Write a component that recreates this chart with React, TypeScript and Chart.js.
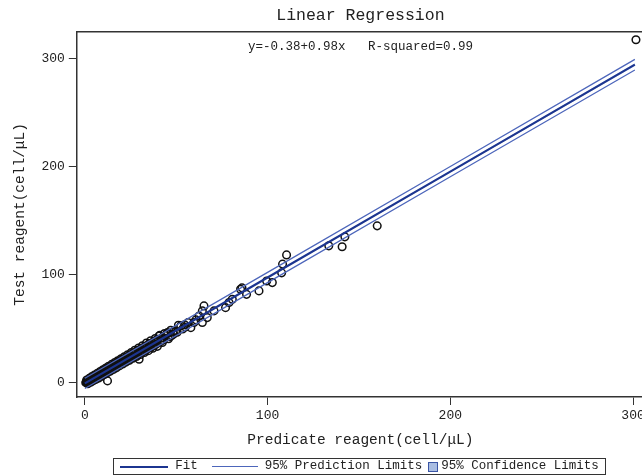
import React, { useEffect, useRef } from "react";
import { Chart, registerables } from "chart.js";

Chart.register(...registerables);

const FONT = "'Liberation Mono', 'Noto Sans CJK SC', monospace";

const titleText = "Linear Regression";
const equationText = "y=-0.38+0.98x   R-squared=0.99";
const xTitle = "Predicate reagent(cell/μL)";
const yTitle = "Test reagent(cell/μL)";

const xTicks = [0, 100, 200, 300];
const yTicks = [0, 100, 200, 300];

// observed pairs [predicate, test]
const observations: [number, number][] = [
  [0.5, 0.3], [0.8, 1.0], [1.0, 0.6], [1.2, 1.5], [1.5, 0.9], [1.8, 2.1], [2.0, 1.4], [2.2, 2.6],
  [2.5, 1.8], [2.8, 3.0], [3.0, 2.2], [3.3, 3.5], [3.5, 2.7], [3.8, 4.1], [4.0, 3.2], [4.3, 3.9],
  [4.6, 5.0], [5.0, 4.3], [5.2, 5.6], [5.5, 4.8], [5.8, 6.2], [6.0, 5.1], [6.3, 6.8], [6.6, 5.7],
  [7.0, 7.3], [7.2, 6.1], [7.5, 8.0], [7.8, 6.9], [8.0, 8.5], [8.3, 7.2], [8.6, 9.1], [9.0, 8.0],
  [9.3, 9.8], [9.6, 8.4], [10.0, 10.5], [10.3, 9.0], [10.6, 11.2], [11.0, 9.8], [11.3, 12.0],
  [11.6, 10.4], [12.0, 12.6], [12.4, 1.9], [12.5, 11.3], [12.8, 13.5], [13.2, 12.0], [13.5, 14.2],
  [13.9, 12.6], [14.2, 15.0], [14.6, 13.4], [15.0, 15.8], [15.4, 14.0], [15.8, 16.7], [16.2, 14.8],
  [16.6, 17.3], [17.0, 15.6], [17.4, 18.2], [17.8, 16.3], [18.2, 19.0], [18.6, 17.2], [19.0, 19.9],
  [19.5, 18.0], [20.0, 21.0], [20.4, 18.8], [20.9, 21.8], [21.3, 19.5], [21.8, 22.6], [22.3, 20.6],
  [22.8, 23.5], [23.3, 21.4], [23.8, 24.6], [24.3, 22.3], [24.8, 25.5], [25.3, 23.4], [25.8, 26.8],
  [26.4, 24.3], [27.0, 27.9], [27.5, 25.0], [28.1, 29.0], [28.7, 26.4], [29.3, 30.2], [29.7, 22.0],
  [30.0, 27.6], [30.6, 31.4], [31.2, 28.8], [31.8, 32.5], [32.4, 29.6], [33.0, 33.8], [33.7, 30.9],
  [34.3, 35.0], [35.0, 32.2], [35.6, 36.4], [36.3, 33.0], [37.0, 37.5], [37.7, 34.6], [38.4, 39.0],
  [39.0, 35.8], [39.8, 40.2], [40.6, 43.5], [41.2, 38.0], [42.0, 41.6], [43.0, 39.8], [44.0, 43.9],
  [45.0, 45.6], [45.2, 46.6], [46.5, 42.9], [47.5, 44.0], [49.7, 48.0], [50.5, 47.0], [52.5, 52.8],
  [53.5, 50.0], [58.0, 51.2], [59.7, 55.9], [62.5, 62.0], [64.3, 66.7], [65.2, 71.3], [64.3, 55.9],
  [67.0, 60.5], [70.7, 66.7], [77.0, 69.7], [78.9, 74.4], [80.7, 77.5], [85.2, 86.7], [86.0, 88.0],
  [88.5, 82.0], [95.3, 85.2], [99.5, 94.4], [102.6, 92.9], [107.7, 101.9], [108.2, 110.0],
  [110.4, 118.5], [133.5, 126.9], [140.8, 126.0], [142.3, 135.2], [160.0, 145.4], [301.6, 317.6],
  [1.0, 2.8], [1.6, -0.8], [2.4, 4.2], [3.1, 0.6], [3.9, 6.0], [4.5, 1.9], [5.3, 7.4], [6.1, 3.3],
  [6.9, 9.0], [7.6, 4.6], [8.4, 10.6], [9.1, 6.1], [9.9, 12.2], [10.7, 7.8], [11.5, 13.8], [12.2, 9.3],
  [13.0, 15.4], [13.8, 10.9], [14.7, 17.2], [15.5, 12.4], [16.4, 18.9], [17.2, 14.0], [18.0, 20.6],
  [18.9, 15.8], [19.8, 22.4], [20.7, 17.5], [21.6, 24.2], [22.5, 19.3], [23.4, 26.1], [24.4, 20.9],
  [25.4, 28.2], [26.3, 22.8], [27.3, 30.3], [28.3, 24.5], [29.4, 32.4], [30.4, 26.3], [31.5, 34.4],
  [32.6, 28.2], [33.7, 36.9], [34.8, 29.9], [36.0, 39.0], [37.2, 32.1], [38.5, 41.2], [39.7, 33.9],
  [41.0, 44.0], [42.4, 37.5], [43.6, 45.8], [45.8, 40.9], [47.0, 48.7], [48.6, 45.3], [51.2, 53.4],
  [55.0, 51.8], [56.5, 56.0], [60.8, 58.4],
  [2.6, 2.3], [4.8, 4.6], [6.8, 6.5], [9.5, 9.2], [11.8, 11.5], [14.0, 13.9], [16.0, 15.9], [18.4, 18.2],
  [20.6, 20.3], [23.0, 22.8], [25.5, 25.1], [28.0, 27.5], [30.8, 30.1], [33.3, 32.9], [36.0, 35.4],
  [38.8, 38.1], [42.8, 42.0], [48.3, 47.3], [54.6, 53.9],
];

const lineX = [0, 100, 200, 301];
const fitY = [-0.4, 97.6, 195.6, 294.6];
const predUpper = [4.3, 102.3, 200.3, 299.5];
const predLower = [-5.1, 92.9, 190.9, 289.7];
const confUpper = [0.4, 98.1, 196.2, 295.8];
const confLower = [-1.2, 97.1, 195.0, 293.4];

const FIT_COLOR = "#1c3590";
const PRED_COLOR = "#4d66bb";
const CONF_FILL = "rgba(170,190,225,0.8)";

const toXY = (ys: number[]) => ys.map((y, i) => ({ x: lineX[i], y }));

const framePlugin = {
  id: "frameAndEquation",
  afterDraw(chart: any) {
    const { ctx, chartArea } = chart;
    ctx.save();
    ctx.strokeStyle = "#333";
    ctx.lineWidth = 1.5;
    ctx.beginPath();
    ctx.moveTo(chartArea.left, chartArea.top);
    ctx.lineTo(chartArea.right, chartArea.top);
    ctx.lineTo(chartArea.right, chartArea.bottom);
    ctx.stroke();
    ctx.fillStyle = "#222";
    ctx.font = `12.5px ${FONT}`;
    ctx.textAlign = "center";
    ctx.textBaseline = "middle";
    ctx.fillText(equationText, (chartArea.left + chartArea.right) / 2, chartArea.top + 15);
    ctx.restore();
  },
};

export default function App() {
  const ref = useRef<HTMLCanvasElement | null>(null);
  useEffect(() => {
    if (!ref.current) return;
    const axisCommon = {
      grid: { display: true, drawOnChartArea: false, drawTicks: true, tickLength: 8, color: "#333", lineWidth: 1 },
      border: { display: true, color: "#333", width: 1.5 },
    };
    const chart = new Chart(ref.current, {
      type: "scatter",
      data: {
        datasets: [
          {
            label: "conf upper",
            type: "line",
            data: toXY(confUpper),
            borderWidth: 0,
            borderColor: "rgba(0,0,0,0)",
            pointRadius: 0,
            fill: "+1",
            backgroundColor: CONF_FILL,
            order: 3,
          } as any,
          {
            label: "conf lower",
            type: "line",
            data: toXY(confLower),
            borderWidth: 0,
            borderColor: "rgba(0,0,0,0)",
            pointRadius: 0,
            fill: false,
            order: 3,
          } as any,
          {
            label: "Observed",
            data: observations.map(([x, y]) => ({ x, y })),
            pointRadius: 3.8,
            borderWidth: 1.5,
            borderColor: "#111",
            backgroundColor: "rgba(255,255,255,0)",
            order: 2,
          },
          {
            label: "Upper Prediction",
            type: "line",
            data: toXY(predUpper),
            borderWidth: 1.3,
            borderColor: PRED_COLOR,
            pointRadius: 0,
            fill: false,
            order: 1,
          } as any,
          {
            label: "Lower Prediction",
            type: "line",
            data: toXY(predLower),
            borderWidth: 1.3,
            borderColor: PRED_COLOR,
            pointRadius: 0,
            fill: false,
            order: 1,
          } as any,
          {
            label: "Fit",
            type: "line",
            data: toXY(fitY),
            borderWidth: 2.2,
            borderColor: FIT_COLOR,
            pointRadius: 0,
            fill: false,
            order: 0,
          } as any,
        ],
      },
      options: {
        animation: false,
        responsive: false,
        devicePixelRatio: 1,
        layout: { autoPadding: false, padding: { left: 7, right: 16, top: 0, bottom: 22 } },
        plugins: {
          legend: { display: false },
          tooltip: { enabled: false },
          title: {
            display: true,
            text: titleText,
            fullSize: false,
            color: "#222",
            font: { family: FONT, size: 16.5, weight: "normal" },
            padding: { top: 6, bottom: 6 },
          },
        },
        scales: {
          x: {
            type: "linear",
            min: -4.4,
            max: 306,
            ...axisCommon,
            afterBuildTicks: (s: any) => { s.ticks = xTicks.map((v) => ({ value: v })); },
            ticks: { color: "#222", font: { family: FONT, size: 13 }, padding: 3, maxRotation: 0 },
            title: {
              display: true,
              text: xTitle,
              color: "#222",
              font: { family: FONT, size: 14.5 },
              padding: { top: 5, bottom: 4 },
            },
          },
          y: {
            type: "linear",
            min: -13,
            max: 325,
            ...axisCommon,
            afterBuildTicks: (s: any) => { s.ticks = yTicks.map((v) => ({ value: v })); },
            ticks: { color: "#222", font: { family: FONT, size: 13 }, padding: 4 },
            title: {
              display: true,
              text: yTitle,
              color: "#222",
              font: { family: FONT, size: 14.5 },
              padding: { top: 4, bottom: 9 },
            },
          },
        },
      } as any,
      plugins: [framePlugin],
    });
    return () => chart.destroy();
  }, []);

  const lineSample = (color: string, w: number, len: number) => (
    <span style={{ display: "inline-block", width: len, height: 0, borderTop: `${w}px solid ${color}`, verticalAlign: "middle", marginRight: 7 }} />
  );

  return (
    <div style={{ position: "fixed", left: 0, top: 0, width: 642, height: 475, overflow: "hidden", background: "#fff" }}>
      <canvas ref={ref} width={660} height={475} style={{ width: 660, height: 475, display: "block" }} />
      <div
        style={{
          position: "absolute",
          left: 113,
          top: 458,
          width: 491,
          height: 15,
          border: "1px solid #333",
          fontFamily: FONT,
          fontSize: 12.5,
          color: "#222",
          display: "flex",
          alignItems: "center",
          justifyContent: "center",
          whiteSpace: "nowrap",
          lineHeight: "15px",
        }}
      >
        {lineSample(FIT_COLOR, 2, 48)}
        <span style={{ marginRight: 14 }}>Fit</span>
        {lineSample(PRED_COLOR, 1, 46)}
        <span style={{ marginRight: 6 }}>95% Prediction Limits</span>
        <span style={{ display: "inline-block", width: 8, height: 8, background: "#a9bde2", border: "1px solid #3a55a5", marginRight: 3 }} />
        <span>95% Confidence Limits</span>
      </div>
    </div>
  );
}
